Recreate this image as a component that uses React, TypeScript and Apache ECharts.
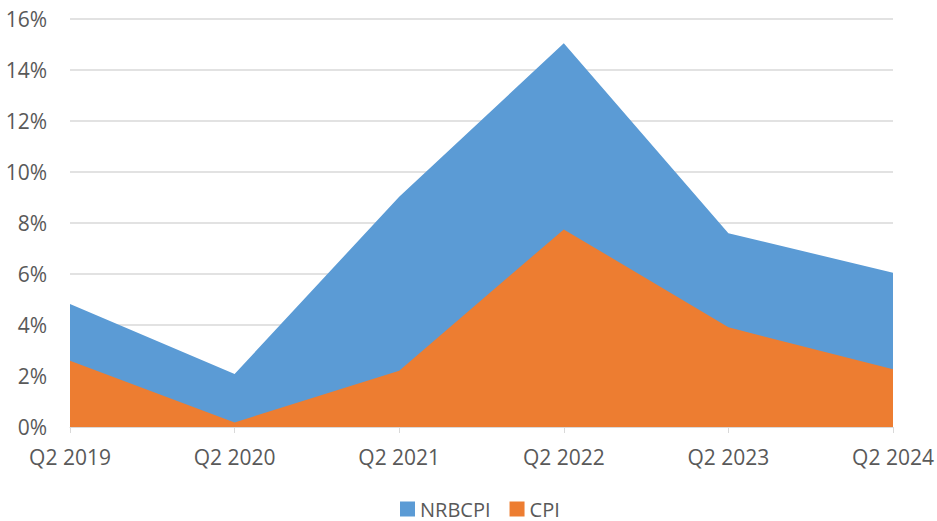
import React, { useEffect, useRef } from "react";
import * as echarts from "echarts";

const categories = ["Q2 2019", "Q2 2020", "Q2 2021", "Q2 2022", "Q2 2023", "Q2 2024"];
const nrbcpi = [4.82, 2.08, 9.03, 15.05, 7.6, 6.05];
const cpi = [2.6, 0.18, 2.21, 7.75, 3.91, 2.26];

export default function App() {
  const ref = useRef<HTMLDivElement>(null);
  useEffect(() => {
    if (!ref.current) return;
    const chart = echarts.init(ref.current, undefined, { renderer: "svg" });
    const font = "'Open Sans', 'Liberation Sans', sans-serif";
    chart.setOption({
      animation: false,
      backgroundColor: "#ffffff",
      textStyle: { fontFamily: font },
      grid: { left: 70, right: 44, top: 19, bottom: 94, containLabel: false },
      legend: {
        top: 494,
        left: 395,
        padding: 5,
        itemWidth: 15,
        itemHeight: 15,
        itemGap: 19,
        icon: "rect",
        textStyle: { color: "#595959", fontSize: 20, fontFamily: font },
        data: ["NRBCPI", "CPI"],
      },
      xAxis: {
        type: "category",
        data: categories,
        boundaryGap: false,
        axisLine: { show: true, lineStyle: { color: "#D9D9D9", width: 1 } },
        axisTick: { show: true, length: 6, lineStyle: { color: "#D9D9D9" } },
        axisLabel: { color: "#595959", fontSize: 21, margin: 19, fontFamily: font },
        splitLine: { show: false },
      },
      yAxis: {
        type: "value",
        min: 0,
        max: 16,
        interval: 2,
        axisLine: { show: false },
        axisTick: { show: false },
        axisLabel: { color: "#595959", fontSize: 21, margin: 23, formatter: "{value}%", fontFamily: font },
        splitLine: { lineStyle: { color: "#D9D9D9", width: 1.5 } },
      },
      series: [
        {
          name: "NRBCPI",
          type: "line",
          data: nrbcpi,
          showSymbol: false,
          symbol: "none",
          lineStyle: { width: 0 },
          itemStyle: { color: "#5B9BD5" },
          areaStyle: { color: "#5B9BD5", opacity: 1 },
          z: 2,
        },
        {
          name: "CPI",
          type: "line",
          data: cpi,
          showSymbol: false,
          symbol: "none",
          lineStyle: { width: 0 },
          itemStyle: { color: "#ED7D31" },
          areaStyle: { color: "#ED7D31", opacity: 1 },
          z: 3,
        },
      ],
    });
    return () => chart.dispose();
  }, []);
  return <div ref={ref} style={{ width: 937, height: 521, position: "absolute", left: 0, top: 0 }} />;
}
